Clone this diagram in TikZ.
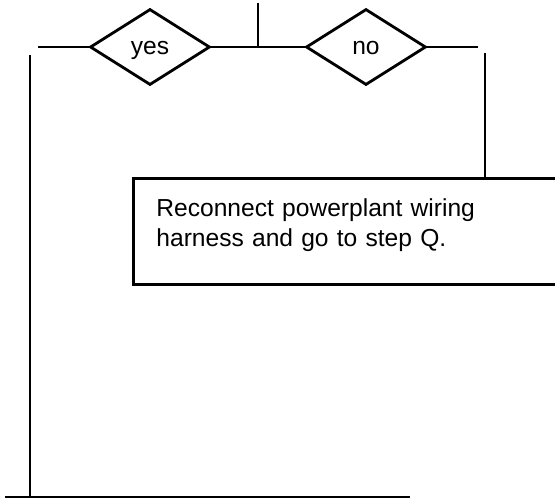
\documentclass[tikz,border=0pt]{standalone}
\usepackage{fontspec}
\setmainfont{Liberation Sans}
\usetikzlibrary{shapes.geometric}

\begin{document}
\begin{tikzpicture}[x=0.02cm,y=-0.02cm,line width=1.6pt,
  decide/.style={draw,diamond,aspect=1.58,minimum width=2.4cm,minimum height=1.52cm,inner sep=0pt,text height=1.7ex,text depth=0pt,font=\fontsize{14}{17}\selectfont},
  actbox/.style={draw,rectangle,anchor=north west,minimum width=8.6cm,minimum height=2.12cm,inner xsep=0.46cm,text width=7.68cm,text depth=0.95cm,align=left,font=\fontsize{14}{17}\selectfont}]
  \useasboundingbox (0,0) rectangle (555,498);
  \node[decide] (yes) at (150,47) {yes};
  \node[decide] (no) at (366,47) {no};
  \node[actbox] (fix) at (132,177) {Reconnect powerplant wiring\\harness and go to step Q.};
  \coordinate (top) at (258,3);
  \coordinate (join) at (258,47);
  \coordinate (lend) at (38,47);
  \coordinate (rend) at (478,47);
  \coordinate (rtop) at (485,53);
  \coordinate (ltop) at (30,55);
  \coordinate (lbot) at (30,497);
  \coordinate (bl) at (5,497);
  \coordinate (br) at (410,497);
  \draw (top) -- (join);
  \draw (yes) -- (no);
  \draw (yes) -- (lend);
  \draw (no) -- (rend);
  \draw (rtop) -- (rtop |- fix.north);
  \draw (ltop) -- (lbot);
  \draw (bl) -- (br);
\end{tikzpicture}
\end{document}
